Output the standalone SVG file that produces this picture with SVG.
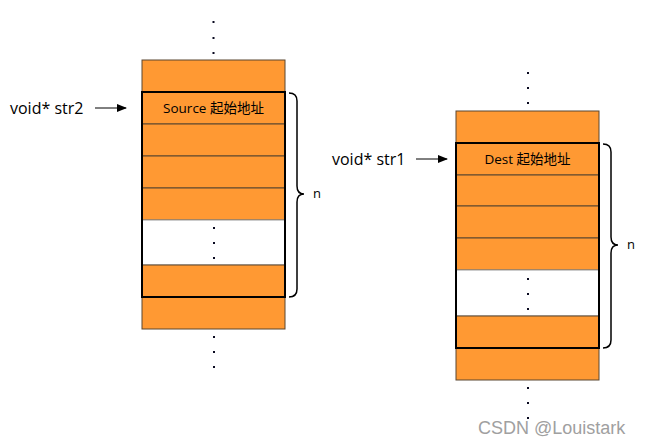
<svg xmlns="http://www.w3.org/2000/svg" width="645" height="444" viewBox="0 0 645 444">
<style>
.cell{fill:#FF9933;stroke:#5a4630;stroke-width:1}
.blank{fill:#fff;stroke:#999;stroke-width:1}
.frame{fill:none;stroke:#000;stroke-width:2}
.dot{fill:#0a0a20}
.lbl{font-family:"Open Sans","Liberation Sans","Noto Sans CJK SC",sans-serif;font-size:16px;fill:#000}
.cl{font-family:"Open Sans","Liberation Sans","Noto Sans CJK SC",sans-serif;font-size:13.5px;fill:#000;text-anchor:middle}
.nn{font-family:"Open Sans","Liberation Sans",sans-serif;font-size:13px;fill:#000}
.brace{fill:none;stroke:#000;stroke-width:1.5}
.conn{stroke:#000;stroke-width:1;fill:none}
</style>
<defs>
<marker id="ah" markerWidth="10" markerHeight="8" refX="9" refY="4" orient="auto" markerUnits="userSpaceOnUse">
<path d="M0,0 L10,4 L0,8 Z" fill="#000"/>
</marker>
</defs>
<g id="source-stack">
<g class="dot"><rect x="212.5" y="21" width="2" height="2"/><rect x="212.5" y="37" width="2" height="2"/><rect x="212.5" y="52" width="2" height="2"/></g>
<rect class="cell" x="142" y="60" width="143" height="32"/>
<rect class="cell" x="142" y="92" width="143" height="32"/>
<rect class="cell" x="142" y="124" width="143" height="32"/>
<rect class="cell" x="142" y="156" width="143" height="32"/>
<rect class="cell" x="142" y="188" width="143" height="32"/>
<rect class="blank" x="142" y="220" width="143" height="45"/>
<rect class="cell" x="142" y="265" width="143" height="32"/>
<rect class="cell" x="142" y="297" width="143" height="32"/>
<rect class="frame" x="142" y="92" width="143" height="205"/>
<g class="dot"><rect x="213" y="227" width="2" height="2"/><rect x="213" y="242" width="2" height="2"/><rect x="213" y="257" width="2" height="2"/></g>
<g class="dot"><rect x="213" y="336" width="2" height="2"/><rect x="213" y="351" width="2" height="2"/><rect x="213" y="366" width="2" height="2"/></g>
<text class="cl" x="213.5" y="113">Source 起始地址</text>
<path class="brace" d="M289,93 Q297,93 297,101 L297,186 Q297,194 304,194 Q297,194 297,202 L297,289 Q297,297 289,297"/>
<text class="nn" x="313" y="198">n</text>
</g>
<g id="dest-stack">
<g class="dot"><rect x="527" y="72" width="2" height="2"/><rect x="527" y="87" width="2" height="2"/><rect x="527" y="102" width="2" height="2"/></g>
<rect class="cell" x="456" y="111" width="143" height="32"/>
<rect class="cell" x="456" y="143" width="143" height="32"/>
<rect class="cell" x="456" y="175" width="143" height="31"/>
<rect class="cell" x="456" y="206" width="143" height="32"/>
<rect class="cell" x="456" y="238" width="143" height="32"/>
<rect class="blank" x="456" y="270" width="143" height="46"/>
<rect class="cell" x="456" y="316" width="143" height="32"/>
<rect class="cell" x="456" y="348" width="143" height="32"/>
<rect class="frame" x="456" y="143" width="143" height="205"/>
<g class="dot"><rect x="527" y="278" width="2" height="2"/><rect x="527" y="293" width="2" height="2"/><rect x="527" y="308" width="2" height="2"/></g>
<g class="dot"><rect x="527" y="387" width="2" height="2"/><rect x="527" y="402" width="2" height="2"/><rect x="527" y="417" width="2" height="2"/></g>
<text class="cl" x="527.5" y="164">Dest 起始地址</text>
<path class="brace" d="M603,144 Q611,144 611,152 L611,237 Q611,245 618,245 Q611,245 611,253 L611,340 Q611,348 603,348"/>
<text class="nn" x="627" y="249">n</text>
</g>
<g id="label-str2"><text class="lbl" x="10" y="114">void* str2</text></g>
<g id="label-str1"><text class="lbl" x="332" y="165">void* str1</text></g>
<g id="connectors">
<line class="conn" x1="95" y1="108" x2="126" y2="108" marker-end="url(#ah)"/>
<line class="conn" x1="416" y1="159" x2="447" y2="159" marker-end="url(#ah)"/>
</g>
<text x="478" y="434" style="font-family:'Liberation Sans',sans-serif;font-size:18px;fill:#a0a0a0">CSDN @Louistark</text>
</svg>
